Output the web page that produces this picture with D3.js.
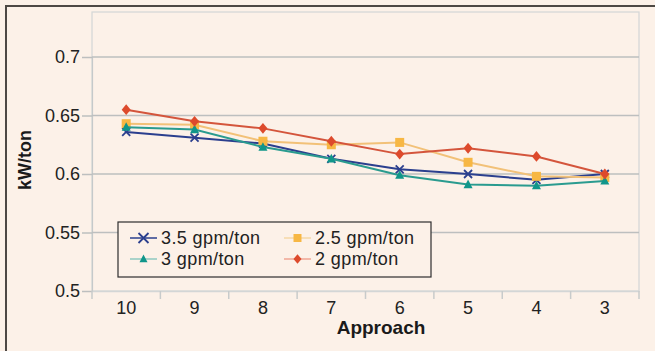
<!DOCTYPE html>
<html>
<head>
<meta charset="utf-8">
<script src="https://cdn.jsdelivr.net/npm/d3@7"></script>
<style>
  html, body { margin: 0; padding: 0; background: #fcf1e8; }
  svg { display: block; font-family: 'Liberation Sans', Arial, sans-serif; }
</style>
</head>
<body>
<div id="chart"></div>
<script>
const categories = ['10', '9', '8', '7', '6', '5', '4', '3']
const yTicks = [0.5, 0.55, 0.6, 0.65, 0.7]
const gpm35 = [0.636, 0.631, 0.626, 0.613, 0.604, 0.600, 0.595, 0.600]
const gpm25 = [0.643, 0.642, 0.628, 0.625, 0.627, 0.610, 0.598, 0.597]
const gpm3 = [0.640, 0.638, 0.623, 0.613, 0.599, 0.591, 0.590, 0.594]
const gpm2 = [0.655, 0.645, 0.639, 0.628, 0.617, 0.622, 0.615, 0.600]

const series = [
  {name: '3.5 gpm/ton', values: gpm35, color: '#2b3f8e', line: '#2b3f8e', shape: 'x', legendLine: '#2b3f8e'},
  {name: '2.5 gpm/ton', values: gpm25, color: '#f7b744', line: '#f2c178', shape: 'square', legendLine: '#f6d7a6'},
  {name: '3 gpm/ton', values: gpm3, color: '#10968a', line: '#2a9b8f', shape: 'triangle', legendLine: '#8fc9c1'},
  {name: '2 gpm/ton', values: gpm2, color: '#dd4a2c', line: '#d4553c', shape: 'diamond', legendLine: '#f0a593'},
]

const W = 655, H = 351
const plot = {left: 92, right: 639, top: 12, bottom: 291}

const svg = d3.select('#chart').append('svg').attr('width', W).attr('height', H)

// outer frame (cut at right and bottom)
svg.append('path')
  .attr('d', `M6,${H} L6,6 L${W},6`)
  .attr('fill', 'none').attr('stroke', '#4d4844').attr('stroke-width', 2)

const x = d3.scaleBand().domain(categories).range([plot.left, plot.right])
const y = d3.scaleLinear().domain([0.5, 0.7]).range([291, 57])

// plot area border
svg.append('rect')
  .attr('x', plot.left).attr('y', plot.top)
  .attr('width', plot.right - plot.left).attr('height', plot.bottom - plot.top)
  .attr('fill', 'none').attr('stroke', '#d3d6d6').attr('stroke-width', 1.2)

// horizontal gridlines + y ticks
const yAxis = svg.append('g').attr('transform', `translate(${plot.left},0)`)
  .call(d3.axisLeft(y).tickValues(yTicks).tickFormat(d3.format('')).tickSize(10).tickPadding(2))
yAxis.select('.domain').attr('stroke', '#c5c9ca').attr('stroke-width', 1.2)
yAxis.selectAll('.tick line').attr('stroke', '#bdbfbf').attr('stroke-width', 1.5)
yAxis.selectAll('.tick text').attr('font-size', 18).attr('fill', '#222').attr('font-family', null)
svg.append('g').selectAll('line').data(yTicks.slice(1)).join('line')
  .attr('x1', plot.left).attr('x2', plot.right)
  .attr('y1', (d) => y(d)).attr('y2', (d) => y(d))
  .attr('stroke', '#bdbfbf').attr('stroke-width', 1.5)

// x axis
const xAxis = svg.append('g').attr('transform', `translate(0,${plot.bottom})`)
  .call(d3.axisBottom(x).tickSize(0).tickPadding(10))
xAxis.select('.domain').attr('stroke', '#d3d6d6').attr('stroke-width', 1.5)
xAxis.selectAll('.tick text').attr('font-size', 18).attr('fill', '#222').attr('font-family', null)
svg.append('g').selectAll('line')
  .data(categories.map((c) => x(c)).concat([plot.right])).join('line')
  .attr('x1', (d) => d).attr('x2', (d) => d)
  .attr('y1', plot.bottom).attr('y2', plot.bottom + 8)
  .attr('stroke', '#c8cbcb').attr('stroke-width', 1.5)

// axis titles
svg.append('text').attr('x', 381).attr('y', 334)
  .attr('text-anchor', 'middle').attr('font-size', 19).attr('font-weight', 'bold').attr('fill', '#1a1a1a')
  .text('Approach')
svg.append('text')
  .attr('transform', 'translate(31,160) rotate(-90)')
  .attr('text-anchor', 'middle').attr('font-size', 18).attr('font-weight', 'bold').attr('fill', '#1a1a1a')
  .text('kW/ton')

function drawMarker(g, shape, cx, cy, color, s) {
  if (shape === 'x') {
    g.append('path')
      .attr('d', `M${cx - s},${cy - s}L${cx + s},${cy + s}M${cx - s},${cy + s}L${cx + s},${cy - s}`)
      .attr('stroke', color).attr('stroke-width', 1.8).attr('fill', 'none')
  } else if (shape === 'square') {
    g.append('rect').attr('x', cx - s).attr('y', cy - s).attr('width', 2 * s).attr('height', 2 * s)
      .attr('fill', color)
  } else if (shape === 'triangle') {
    g.append('path').attr('d', `M${cx},${cy - s * 1.1}L${cx + s},${cy + s * 0.8}L${cx - s},${cy + s * 0.8}Z`)
      .attr('fill', color)
  } else {
    g.append('path').attr('d', `M${cx},${cy - s * 1.2}L${cx + s},${cy}L${cx},${cy + s * 1.2}L${cx - s},${cy}Z`)
      .attr('fill', color)
  }
}

const line = d3.line()
  .x((d, i) => x(categories[i]) + x.bandwidth() / 2)
  .y((d) => y(d))

series.forEach((s) => {
  const g = svg.append('g')
  g.append('path').datum(s.values)
    .attr('d', line).attr('fill', 'none')
    .attr('stroke', s.line).attr('stroke-width', 2)
  s.values.forEach((v, i) => {
    drawMarker(g, s.shape, x(categories[i]) + x.bandwidth() / 2, y(v), s.color, s.shape === 'x' ? 4 : 4.5)
  })
})

// legend
const legend = svg.append('g')
legend.append('rect').attr('x', 118).attr('y', 222).attr('width', 313).attr('height', 55)
  .attr('fill', '#fcf1e8').attr('stroke', '#2e2e2e').attr('stroke-width', 1.2)
const legendPos = [
  {lx: 130, ty: 238}, {lx: 284, ty: 238},
  {lx: 130, ty: 259}, {lx: 284, ty: 259},
]
series.forEach((s, i) => {
  const p = legendPos[i]
  legend.append('line').attr('x1', p.lx).attr('x2', p.lx + 27).attr('y1', p.ty).attr('y2', p.ty)
    .attr('stroke', s.legendLine).attr('stroke-width', 1.5)
  drawMarker(legend, s.shape, p.lx + 13.5, p.ty, s.color, s.shape === 'x' ? 5 : 4)
  legend.append('text').attr('x', p.lx + 31).attr('y', p.ty).attr('dy', '0.35em')
    .attr('font-size', 18).attr('letter-spacing', 0.4).attr('fill', '#222').text(s.name)
})
</script>
</body>
</html>
